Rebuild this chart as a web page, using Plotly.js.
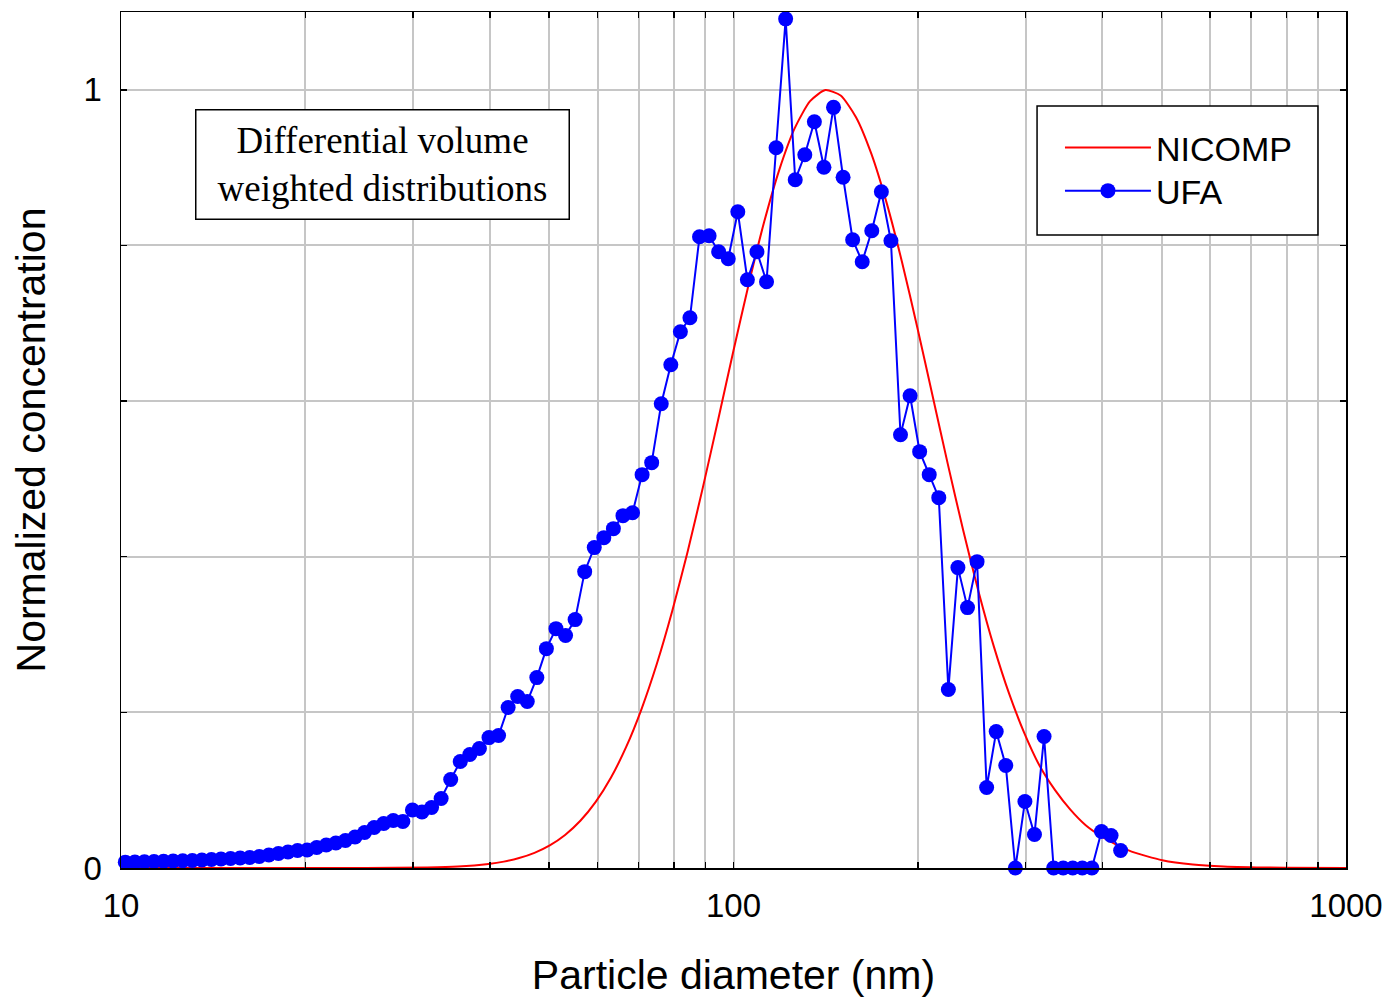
<!DOCTYPE html>
<html>
<head>
<meta charset="utf-8">
<script src="https://cdn.plot.ly/plotly-3.0.1.min.js"></script>
<style>html,body{margin:0;padding:0;background:#fff;}#chart{width:1388px;height:999px;}</style>
</head>
<body>
<div id="chart"></div>
<script>
// UFA particle diameters (nm)
const ufaDiameter = [
10.163, 10.536, 10.921, 11.322, 11.736, 12.166, 12.612, 13.074, 13.553, 14.049,
14.564, 15.098, 15.651, 16.224, 16.818, 17.434, 18.073, 18.735, 19.422, 20.133,
20.871, 21.635, 22.428, 23.249, 24.101, 24.984, 25.899, 26.848, 27.831, 28.851,
29.908, 31.003, 32.139, 33.317, 34.537, 35.802, 37.114, 38.474, 39.883, 41.344,
42.859, 44.429, 46.056, 47.743, 49.492, 51.306, 53.185, 55.133, 57.152, 59.246,
61.416, 63.666, 65.998, 68.416, 70.922, 73.521, 76.214, 79.006, 81.900, 84.900,
88.010, 91.234, 94.577, 98.041, 101.63, 105.36, 109.21, 113.22, 117.36, 121.66,
126.12, 130.74, 135.53, 140.49, 145.64, 150.98, 156.51, 162.24, 168.18, 174.34,
180.73, 187.35, 194.22, 201.33, 208.71, 216.35, 224.28, 232.49, 241.01, 249.84,
258.99, 268.48, 278.31, 288.51, 299.08, 310.03, 321.39, 333.17, 345.37, 358.02,
371.14, 384.74, 398.83, 413.44, 428.59
];
// UFA normalized concentration
const ufaValue = [
0.0075, 0.0077, 0.0080, 0.0083, 0.0087, 0.0090, 0.0094, 0.0096, 0.0103, 0.0109,
0.0116, 0.0122, 0.0128, 0.0135, 0.0148, 0.0167, 0.0186, 0.0206, 0.0225, 0.0231,
0.0263, 0.0295, 0.0321, 0.0353, 0.0398, 0.0456, 0.0520, 0.0571, 0.0610, 0.0597,
0.0745, 0.0719, 0.0777, 0.0893, 0.1137, 0.1368, 0.1458, 0.1535, 0.1676, 0.1702,
0.2062, 0.2203, 0.2139, 0.2447, 0.2819, 0.3076, 0.2987, 0.3192, 0.3808, 0.4117,
0.4245, 0.4361, 0.4528, 0.4566, 0.5055, 0.5209, 0.5966, 0.6467, 0.6891, 0.7071,
0.8112, 0.8125, 0.7919, 0.7829, 0.8433, 0.7559, 0.7919, 0.7534, 0.9255, 1.0912,
0.8844, 0.9165, 0.9589, 0.9005, 0.9775, 0.8876, 0.8073, 0.7791, 0.8189, 0.8690,
0.8060, 0.5568, 0.6069, 0.5350, 0.5055, 0.4759, 0.2293, 0.3860, 0.3346, 0.3937,
0.1034, 0.1753, 0.1317, 0.0000, 0.0854, 0.0430, 0.1689, 0.0000, 0.0000, 0.0000,
0.0000, 0.0000, 0.0469, 0.0417, 0.0225
];
// NICOMP curve (diameter nm, normalized concentration)
const nicompDiameter = [
10, 15.85, 25.12, 31.62, 35.48, 39.81, 42.17, 44.67, 47.32, 50.12,
53.09, 56.23, 59.57, 63.10, 66.83, 70.79, 74.99, 79.43, 84.14, 89.13,
94.41, 100, 105.93, 112.20, 118.85, 125.89, 133.35, 141.25, 149.62,
158.49, 167.88, 177.83, 188.36, 199.53, 211.35, 223.87, 237.14, 251.19, 266.07,
281.84, 298.54, 316.23, 334.97, 354.81, 375.84, 398.11, 421.70, 446.68, 501.19,
562.34, 630.96, 794.33, 1000
];
const nicompValue = [
0, 0, 0.0001, 0.0007, 0.0019, 0.0052, 0.0082, 0.0128, 0.0195, 0.0291,
0.0425, 0.0607, 0.0850, 0.1163, 0.1559, 0.2046, 0.2627, 0.3302, 0.4061, 0.4891,
0.5764, 0.6650, 0.7509, 0.8300, 0.8978, 0.9507, 0.9854, 0.9997, 0.9927,
0.9648, 0.9179, 0.8547, 0.7791, 0.6950, 0.6069, 0.5187, 0.4340, 0.3554, 0.2848,
0.2240, 0.1730, 0.1310, 0.1000, 0.0750, 0.0550, 0.0410, 0.0300, 0.0210, 0.0100,
0.0045, 0.0020, 0.0003, 0
];

const xTickVals = [10,20,30,40,50,60,70,80,90,100,200,300,400,500,600,700,800,900,1000];
const xTickText = ['10','','','','','','','','','100','','','','','','','','','1000'];
const yTickVals = [0, 0.2, 0.4, 0.6, 0.8, 1];
const yTickText = ['0', '', '', '', '', '1'];

const FONT = 'Arial, "Liberation Sans", sans-serif';

const traces = [
  {
    x: nicompDiameter, y: nicompValue, name: 'NICOMP', type: 'scatter', mode: 'lines',
    line: {color: '#ff0000', width: 2, shape: 'spline', smoothing: 0.6},
    legend: 'legend'
  },
  {
    x: ufaDiameter, y: ufaValue, name: 'UFA', type: 'scatter', mode: 'lines+markers',
    line: {color: '#0000ff', width: 2},
    marker: {color: '#0000ff', size: 15},
    cliponaxis: false,
    legend: 'legend2'
  }
];

const legendCommon = {
  xanchor: 'left', yanchor: 'top',
  bgcolor: 'rgba(0,0,0,0)', borderwidth: 0,
  font: {family: FONT, size: 34, color: '#000'},
  itemwidth: 86
};

const layout = {
  width: 1388, height: 999,
  margin: {l: 121, r: 42, t: 12, b: 131},
  paper_bgcolor: '#ffffff', plot_bgcolor: '#ffffff',
  font: {family: FONT, size: 33, color: '#000'},
  showlegend: true,
  xaxis: {
    type: 'log', range: [1, 3],
    tickvals: xTickVals, ticktext: xTickText,
    ticks: 'inside', ticklen: 6, tickwidth: 1.5, tickcolor: '#000',
    showgrid: true, gridcolor: '#c6c6c6', gridwidth: 2,
    showline: true, linecolor: '#000', linewidth: 1.5, mirror: 'ticks',
    zeroline: false,
    tickfont: {family: FONT, size: 33, color: '#000'},
    ticklabelstandoff: 8,
    title: {text: 'Particle diameter (nm)', font: {family: FONT, size: 41, color: '#000'}, standoff: 37}
  },
  yaxis: {
    range: [0, 1.1],
    tickvals: yTickVals, ticktext: yTickText,
    ticks: 'inside', ticklen: 6, tickwidth: 1.5, tickcolor: '#000',
    showgrid: true, gridcolor: '#c6c6c6', gridwidth: 2,
    showline: true, linecolor: '#000', linewidth: 1.5, mirror: 'ticks',
    zeroline: false,
    tickfont: {family: FONT, size: 33, color: '#000'},
    ticklabelstandoff: 11,
    title: {text: 'Normalized concentration', font: {family: FONT, size: 41, color: '#000'}, standoff: 25}
  },
  legend: Object.assign({x: 0.7665, y: 0.8750}, legendCommon),
  legend2: Object.assign({x: 0.7665, y: 0.8247}, legendCommon),
  shapes: [{
    type: 'rect', xref: 'paper', yref: 'paper', layer: 'above',
    x0: 0.7478, x1: 0.9771, y0: 0.7395, y1: 0.8902,
    fillcolor: '#ffffff', line: {color: '#000', width: 1.5}
  }],
  annotations: [{
    xref: 'paper', yref: 'paper', x: 0.2131, y: 0.822,
    xanchor: 'center', yanchor: 'middle',
    text: 'Differential volume<br>weighted distributions',
    showarrow: false,
    font: {family: '"Times New Roman", "Liberation Serif", serif', size: 37, color: '#000'},
    align: 'center',
    bordercolor: '#000', borderwidth: 1.5, borderpad: 2,
    bgcolor: '#ffffff',
    width: 368, height: 104
  }]
};

Plotly.newPlot('chart', traces, layout, {displayModeBar: false, staticPlot: true});
</script>
</body>
</html>
